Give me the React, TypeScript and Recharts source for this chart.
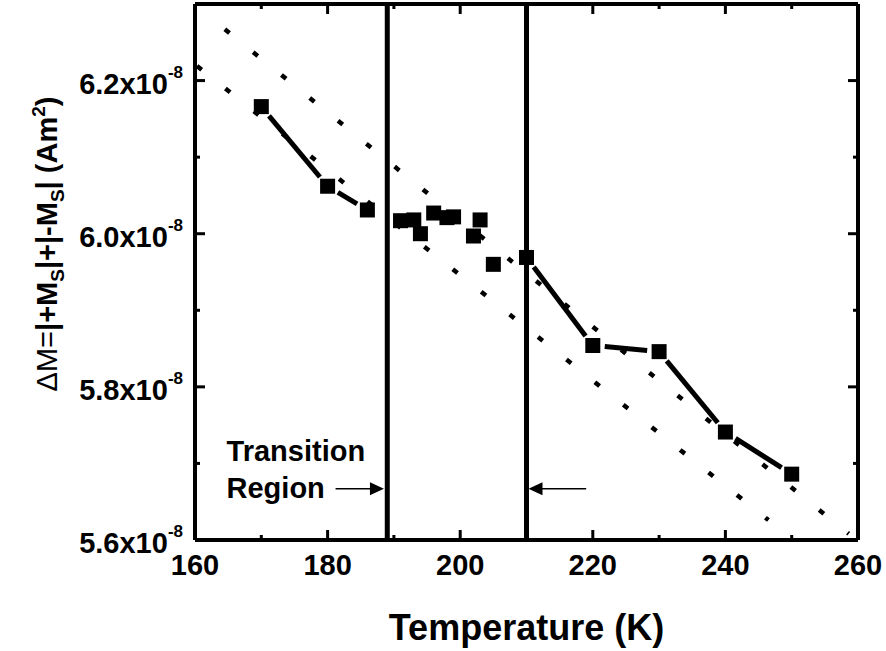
import React from 'react';
import { ComposedChart, Line, ReferenceLine, XAxis, YAxis } from 'recharts';

// ΔM values are in units of 1e-8 A·m²
const temperature = [170, 180, 186, 191, 193, 194, 196, 198, 199, 202, 203, 205, 210, 220, 230, 240, 250];
const deltaM = [6.166, 6.062, 6.031, 6.017, 6.018, 6.0, 6.027, 6.021, 6.022, 5.997, 6.018, 5.96, 5.969, 5.854, 5.846, 5.741, 5.686];

// boundaries of the transition region (K)
const transitionBounds = [189, 210];

// dotted guide lines, read as end points
const upperGuideT = [164.5, 258.6];
const upperGuideM = [6.267, 5.608];
const lowerGuideT = [160.3, 246.5];
const lowerGuideM = [6.219, 5.626];

// arrows pointing at the region boundaries
const leftArrowT = [181.2, 188.5];
const rightArrowT = [219.0, 210.3];
const arrowM = 5.667;

const xDomain = [160, 260];
const yDomain = [5.6, 6.3];
const xTicks = [160, 170, 180, 190, 200, 210, 220, 230, 240, 250, 260];
const yTicks = [5.6, 5.7, 5.8, 5.9, 6.0, 6.1, 6.2, 6.3];

const FONT = '"Liberation Sans", Arial, sans-serif';
const W = 886;
const H = 651;

const [lo, hi] = transitionBounds;
const rows = temperature.map((t, i) => ({ t, m: deltaM[i] }));

// points outside the transition region are joined by a solid line
const segments: { x: number; y: number }[][] = [];
for (let i = 0; i < rows.length - 1; i++) {
  const a = rows[i];
  const b = rows[i + 1];
  const sameSide = (a.t <= lo && b.t <= lo) || (a.t >= hi && b.t >= hi);
  if (sameSide) segments.push([{ x: a.t, y: a.m }, { x: b.t, y: b.m }]);
}

const toPoints = (ts: number[], ms: number[]) => ts.map((t, i) => ({ t, m: ms[i] }));
const upperGuide = toPoints(upperGuideT, upperGuideM);
const lowerGuide = toPoints(lowerGuideT, lowerGuideM);

const isMajor = (ticks: number[], v: number) => ticks.indexOf(v) % 2 === 0;

function Square(props: any) {
  const { cx, cy } = props;
  if (cx == null || cy == null) return null;
  return <rect x={cx - 7.5} y={cy - 7.5} width={15} height={15} fill="#000" />;
}

// connecting line that stops short of the markers
function GappedSegment(props: any) {
  const { x1, y1, x2, y2 } = props;
  const gap = 12;
  const dx = x2 - x1;
  const dy = y2 - y1;
  const len = Math.hypot(dx, dy);
  if (!len || len <= 2 * gap) return null;
  const ux = dx / len;
  const uy = dy / len;
  return (
    <line
      x1={x1 + ux * gap}
      y1={y1 + uy * gap}
      x2={x2 - ux * gap}
      y2={y2 - uy * gap}
      stroke="#000"
      strokeWidth={5}
    />
  );
}

function BottomLabel({ x, y, payload }: any) {
  if (!isMajor(xTicks, payload.value)) return null;
  return (
    <text x={x} y={y + 35} textAnchor="middle" fontFamily={FONT} fontWeight="bold" fontSize={29} fill="#000">
      {payload.value}
    </text>
  );
}

function LeftLabel({ x, y, payload }: any) {
  if (!isMajor(yTicks, payload.value)) return null;
  return (
    <text x={x - 12} y={y + 13} textAnchor="end" fontFamily={FONT} fontWeight="bold" fontSize={29} fill="#000">
      <tspan>{payload.value.toFixed(1)}x10</tspan>
      <tspan dy={-16} fontSize={17}>-8</tspan>
    </text>
  );
}

// inward tick marks on both ends of a full-height / full-width reference line
function XTickMarks(props: any) {
  const { x1, y1, y2, major } = props;
  const top = Math.min(y1, y2);
  const bottom = Math.max(y1, y2);
  const len = major ? 10 : 5;
  return (
    <g>
      <line x1={x1} x2={x1} y1={bottom} y2={bottom - len} stroke="#000" strokeWidth={3} />
      <line x1={x1} x2={x1} y1={top} y2={top + len} stroke="#000" strokeWidth={3} />
    </g>
  );
}

function YTickMarks(props: any) {
  const { x1, x2, y1, major } = props;
  const left = Math.min(x1, x2);
  const right = Math.max(x1, x2);
  const len = major ? 10 : 5;
  return (
    <g>
      <line x1={left} x2={left + len} y1={y1} y2={y1} stroke="#000" strokeWidth={3} />
      <line x1={right} x2={right - len} y1={y1} y2={y1} stroke="#000" strokeWidth={3} />
    </g>
  );
}

function Arrow(props: any) {
  const { x1, y1, x2, y2 } = props;
  const dir = Math.sign(x2 - x1);
  return (
    <g>
      <line x1={x1} y1={y1} x2={x2 - dir * 10} y2={y2} stroke="#000" strokeWidth={1.5} />
      <polygon points={`${x2},${y2} ${x2 - dir * 14},${y2 - 6.5} ${x2 - dir * 14},${y2 + 6.5}`} fill="#000" />
    </g>
  );
}

function LabelledArrow(props: any) {
  const { x1, y1 } = props;
  return (
    <g>
      <text x={x1 - 109} y={y1 - 28} fontFamily={FONT} fontWeight="bold" fontSize={29} fill="#000">
        Transition
      </text>
      <text x={x1 - 109} y={y1 + 9} fontFamily={FONT} fontWeight="bold" fontSize={29} fill="#000">
        Region
      </text>
      <Arrow {...props} />
    </g>
  );
}

function XTitle({ viewBox }: any) {
  return (
    <text x={viewBox.x + viewBox.width / 2} y={viewBox.y + 100} textAnchor="middle" fontFamily={FONT} fontWeight="bold" fontSize={36} fill="#000">
      Temperature (K)
    </text>
  );
}

function YTitle({ viewBox }: any) {
  const cx = 47;
  const cy = viewBox.y + viewBox.height / 2 - 28;
  return (
    <text
      x={cx}
      y={cy}
      transform={`rotate(-90 ${cx} ${cy})`}
      dy={10}
      textAnchor="middle"
      fontFamily={FONT}
      fontWeight="bold"
      fontSize={29}
      fill="#000"
    >
      <tspan fontWeight="normal">ΔM=</tspan>
      <tspan>|+M</tspan>
      <tspan dy={7} fontSize={19}>S</tspan>
      <tspan dy={-7}>|+|-M</tspan>
      <tspan dy={7} fontSize={19}>S</tspan>
      <tspan dy={-7}>| (Am</tspan>
      <tspan dy={-12} fontSize={19}>2</tspan>
      <tspan dy={12}>)</tspan>
    </text>
  );
}

export default function App() {
  return (
    <div style={{ position: 'absolute', left: 0, top: 0, width: W, height: H, background: '#fff' }}>
      <ComposedChart width={W} height={H} data={rows} margin={{ top: 4, right: 28, bottom: 0, left: 0 }}>
        <XAxis
          dataKey="t"
          type="number"
          domain={xDomain}
          ticks={xTicks}
          allowDataOverflow
          height={111}
          tickSize={0}
          tickMargin={0}
          tickLine={false}
          axisLine={false}
          tick={<BottomLabel />}
          label={{ content: <XTitle /> }}
        />
        <YAxis
          type="number"
          domain={yDomain}
          ticks={yTicks}
          allowDataOverflow
          width={195}
          tickSize={0}
          tickMargin={0}
          tickLine={false}
          axisLine={false}
          tick={<LeftLabel />}
          label={{ content: <YTitle /> }}
        />

        <Line
          data={upperGuide}
          dataKey="m"
          stroke="#000"
          strokeWidth={4.5}
          strokeDasharray="6 30.4"
          dot={false}
          activeDot={false}
          isAnimationActive={false}
        />
        <Line
          data={lowerGuide}
          dataKey="m"
          stroke="#000"
          strokeWidth={4.5}
          strokeDasharray="6 30.3"
          dot={false}
          activeDot={false}
          isAnimationActive={false}
        />

        {xTicks.map((t) => (
          <ReferenceLine key={`xt${t}`} x={t} shape={<XTickMarks major={isMajor(xTicks, t)} />} />
        ))}
        {yTicks.map((v) => (
          <ReferenceLine key={`yt${v}`} y={v} shape={<YTickMarks major={isMajor(yTicks, v)} />} />
        ))}

        {/* plot frame */}
        <ReferenceLine x={xDomain[0]} stroke="#000" strokeWidth={4} />
        <ReferenceLine x={xDomain[1]} stroke="#000" strokeWidth={4} />
        <ReferenceLine y={yDomain[0]} stroke="#000" strokeWidth={4} />
        <ReferenceLine y={yDomain[1]} stroke="#000" strokeWidth={4} />

        {transitionBounds.map((b) => (
          <ReferenceLine key={b} x={b} stroke="#000" strokeWidth={5} />
        ))}

        <ReferenceLine
          segment={[{ x: leftArrowT[0], y: arrowM }, { x: leftArrowT[1], y: arrowM }]}
          shape={<LabelledArrow />}
        />
        <ReferenceLine
          segment={[{ x: rightArrowT[0], y: arrowM }, { x: rightArrowT[1], y: arrowM }]}
          shape={<Arrow />}
        />

        {segments.map((seg, i) => (
          <ReferenceLine key={`s${i}`} segment={seg} shape={<GappedSegment />} />
        ))}
        <Line dataKey="m" stroke="none" dot={<Square />} activeDot={false} isAnimationActive={false} />
      </ComposedChart>
    </div>
  );
}
